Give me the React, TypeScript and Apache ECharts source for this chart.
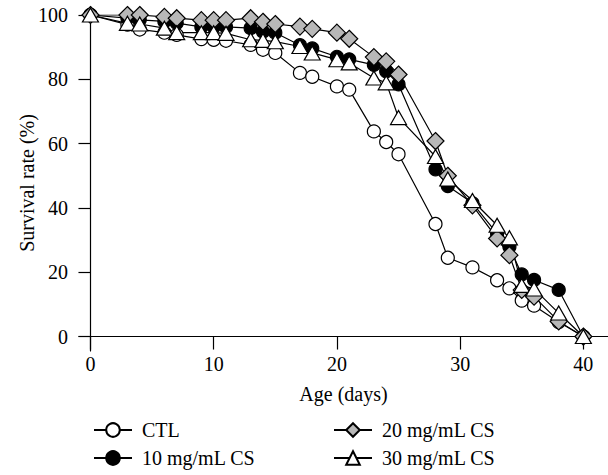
import React, { useEffect, useRef } from "react";
import * as echarts from "echarts";

const days = [0, 3, 4, 6, 7, 9, 10, 11, 13, 14, 15, 17, 18, 20, 21, 23, 24, 25, 28, 29, 31, 33, 34, 35, 36, 38, 40];
const ctl = [100, 97, 95.5, 94.5, 93.8, 92.5, 92.3, 92, 90.7, 89.2, 88.2, 82, 80.8, 77.8, 76.8, 63.8, 60.5, 56.7, 35, 24.5, 21.5, 17.5, 15, 11.2, 9.6, 4.5, 0];
const cs10 = [100, 99, 98.5, 98, 97.5, 96.3, 96.3, 96.3, 95.9, 94.8, 94.5, 90.6, 89.6, 87, 86.2, 84.5, 82.5, 78.4, 52, 46.8, 41.5, 32, 27.9, 19.3, 17.6, 14.5, 0];
const cs20 = [100, 100, 100, 99.4, 99, 98.4, 98.4, 98.4, 99, 97.9, 97.2, 96.4, 95.7, 94.5, 92.6, 86.9, 85.6, 81.5, 60.8, 50, 40.8, 30.5, 25.3, 14.5, 12.4, 4.7, 0];
const cs30 = [100, 97.4, 97.2, 95.9, 94.5, 94.5, 94.5, 94.3, 92.3, 92.1, 91.7, 90.2, 88.2, 86.1, 85.1, 80.4, 78.9, 68.1, 56, 49, 42.3, 34.6, 30.7, 15.9, 14.8, 7.3, 0];

const seriesNames = ["CTL", "10 mg/mL CS", "20 mg/mL CS", "30 mg/mL CS"];
const xTicks = [0, 10, 20, 30, 40];
const yTicks = [0, 20, 40, 60, 80, 100];

const FONT = "'Liberation Serif', 'DejaVu Serif', serif";

export default function App() {
  const ref = useRef<HTMLDivElement>(null);
  useEffect(() => {
    if (!ref.current) return;
    const chart = echarts.init(ref.current, undefined, { renderer: "svg" });
    const pair = (vals: number[]) => days.map((d, i) => [d, vals[i]]);
    const mk = (name: string, vals: number[], symbol: string, size: any, fill: string) => ({
      name,
      type: "line",
      data: pair(vals),
      symbol,
      symbolSize: size,
      showSymbol: true,
      lineStyle: { color: "#000", width: 1.2 },
      itemStyle: { color: fill, borderColor: "#000", borderWidth: 1.2 },
      emphasis: { disabled: true },
    });
    const legendBase = {
      orient: "vertical",
      top: 420,
      height: 55,
      itemWidth: 38,
      itemHeight: 17,
      itemGap: 8,
      padding: 0,
      textStyle: { fontSize: 20, fontFamily: FONT, color: "#000", padding: [0, 0, 0, 5] },
    };
    chart.setOption({
      animation: false,
      textStyle: { fontFamily: FONT, color: "#000" },
      grid: { left: 79, top: 15, width: 529, height: 336, containLabel: false, outerBoundsMode: "none" },
      xAxis: {
        type: "value",
        min: -0.93,
        max: 42,
        name: "Age (days)",
        nameLocation: "middle",
        nameGap: 33,
        nameMoveOverlap: false,
        nameTextStyle: { fontSize: 20, fontFamily: FONT, color: "#000" },
        axisLine: { onZero: true, lineStyle: { color: "#000", width: 1.2 } },
        axisTick: { show: true, length: 13, customValues: xTicks, lineStyle: { color: "#000", width: 1.2 } },
        axisLabel: { customValues: xTicks, fontSize: 20, fontFamily: FONT, color: "#000", margin: 3 },
        splitLine: { show: false },
      },
      yAxis: {
        type: "value",
        min: -4.5,
        max: 100,
        name: "Survival rate (%)",
        nameLocation: "middle",
        nameGap: 42,
        nameMoveOverlap: false,
        nameTextStyle: { fontSize: 20, fontFamily: FONT, color: "#000" },
        axisLine: { show: true, onZero: true, lineStyle: { color: "#000", width: 1.2 } },
        axisTick: { show: true, length: 12, customValues: yTicks, lineStyle: { color: "#000", width: 1.2 } },
        axisLabel: { customValues: yTicks, fontSize: 20, fontFamily: FONT, color: "#000", margin: 11 },
        splitLine: { show: false },
      },
      legend: [
        { ...legendBase, data: [seriesNames[0], seriesNames[1]], left: 93 },
        { ...legendBase, data: [seriesNames[2], seriesNames[3]], left: 333 },
      ],
      series: [
        mk(seriesNames[0], ctl, "circle", 13, "#fff"),
        mk(seriesNames[1], cs10, "circle", 13, "#000"),
        mk(seriesNames[2], cs20, "diamond", [17, 17], "#b8b8b8"),
        mk(seriesNames[3], cs30, "triangle", [16, 14], "#fff"),
      ],
    });
    return () => chart.dispose();
  }, []);
  return (
    <div
      ref={ref}
      style={{ position: "fixed", left: 0, top: 0, width: 608, height: 475, background: "#fff" }}
    />
  );
}
